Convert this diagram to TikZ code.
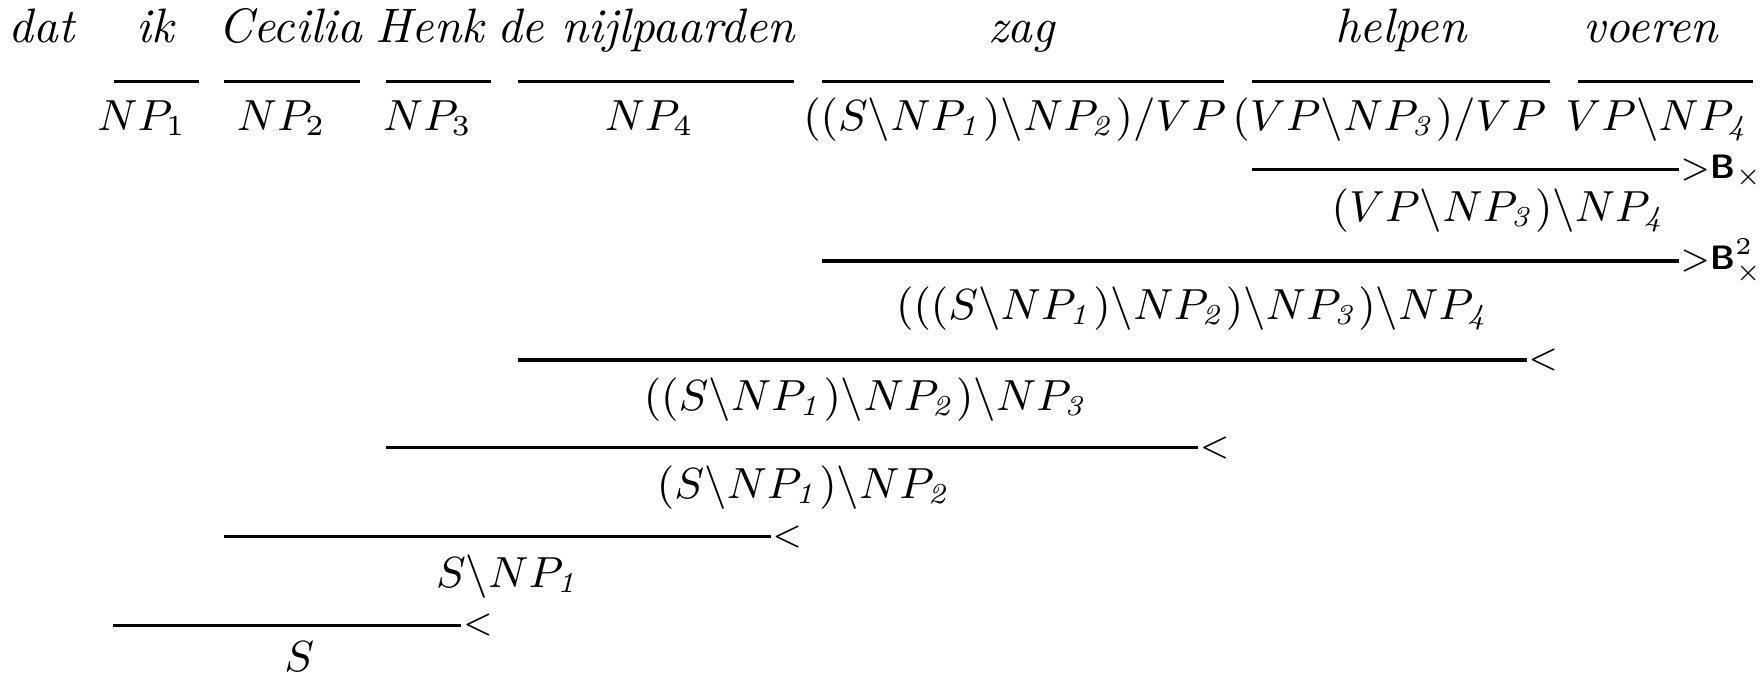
\documentclass[tikz,border=0pt]{standalone}
\usepackage{amsmath}
\usepackage{amssymb}
\usetikzlibrary{positioning}

\newcommand{\bs}{\backslash}
\newcommand{\np}[1]{NP_{\mathit{#1}}}
\newcommand{\comb}{\textsf{\bfseries B}}

\tikzset{
  word/.style={anchor=base,inner sep=0pt,font=\itshape},
  cat/.style={anchor=base,inner sep=0pt,font=\small},
  rule/.style={line width=0.65pt},
  rname/.style={anchor=base west,inner sep=0pt,font=\scriptsize,yshift=-1.75pt}
}

\begin{document}
\begin{tikzpicture}[scale=0.8175]
    \useasboundingbox (0,0) rectangle (15.68,-6.03);

    % words
    \node[word] (dat) at (0.37,-0.38) {dat};
    \node[word] (ik) at (1.38,-0.38) {ik};
    \node[word] (cecilia) at (2.58,-0.38) {Cecilia};
    \node[word] (henk) at (3.82,-0.38) {Henk};
    \node[word] (nijl) at (5.74,-0.38) {de nijlpaarden};
    \node[word] (zag) at (9.08,-0.38) {zag};
    \node[word] (helpen) at (12.45,-0.38) {helpen};
    \node[word] (voeren) at (14.67,-0.38) {voeren};

    % lexical categories
    \draw[rule] (1.01,-0.725) -- (1.77,-0.725);
    \draw[rule] (1.99,-0.725) -- (3.20,-0.725);
    \draw[rule] (3.43,-0.725) -- (4.36,-0.725);
    \draw[rule] (4.60,-0.725) -- (7.06,-0.725);
    \draw[rule] (7.31,-0.725) -- (10.88,-0.725);
    \draw[rule] (11.13,-0.725) -- (13.78,-0.725);
    \draw[rule] (14.03,-0.725) -- (15.58,-0.725);

    \node[cat] (np1) at (1.26,-1.16) {$NP_1$};
    \node[cat] (np2) at (2.50,-1.16) {$NP_2$};
    \node[cat] (np3) at (3.80,-1.16) {$NP_3$};
    \node[cat] (np4) at (5.77,-1.16) {$NP_4$};
    \node[cat] (zagc) at (9.02,-1.16) {$((S\bs\np{1})\bs\np{2})/VP$};
    \node[cat] (helpc) at (12.35,-1.16) {$(VP\bs\np{3})/VP$};
    \node[cat] (voerc) at (14.74,-1.16) {$VP\bs\np{4}$};

    % derivation
    \draw[rule] (11.13,-1.51) -- (14.92,-1.51) node[rname] {${>}\mbox{\comb}_\times$};
    \node[cat] (vp34) at (13.33,-1.97) {$(VP\bs\np{3})\bs\np{4}$};

    \draw[rule] (7.31,-2.32) -- (14.92,-2.32) node[rname] {${>}\mbox{\comb}^2_\times$};
    \node[cat] (s1234) at (10.61,-2.84) {$(((S\bs\np{1})\bs\np{2})\bs\np{3})\bs\np{4}$};

    \draw[rule] (4.60,-3.20) -- (13.57,-3.20) node[rname] {$<$};
    \node[cat] (s123) at (7.70,-3.65) {$((S\bs\np{1})\bs\np{2})\bs\np{3}$};

    \draw[rule] (3.43,-3.98) -- (10.65,-3.98) node[rname] {$<$};
    \node[cat] (s12) at (7.15,-4.43) {$(S\bs\np{1})\bs\np{2}$};

    \draw[rule] (1.99,-4.77) -- (6.85,-4.77) node[rname] {$<$};
    \node[cat] (s1) at (4.52,-5.22) {$S\bs\np{1}$};

    \draw[rule] (1.00,-5.56) -- (4.10,-5.56) node[rname] {$<$};
    \node[cat] (s) at (2.66,-5.97) {$S$};

\end{tikzpicture}
\end{document}
